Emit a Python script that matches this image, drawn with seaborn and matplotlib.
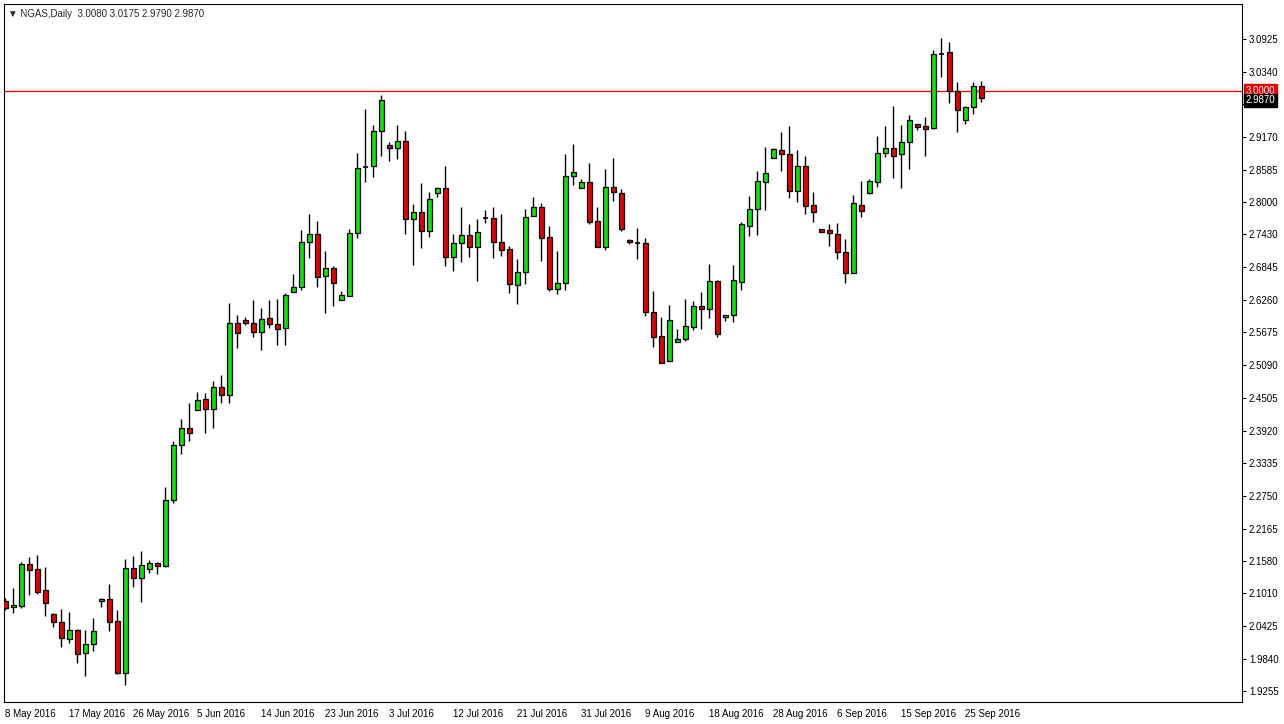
import numpy as np
import matplotlib
matplotlib.use("Agg")
import matplotlib.pyplot as plt
import seaborn as sns

# daily NGAS candles (open, high, low, close)
opens = [2.087, 2.076, 2.078, 2.153, 2.144, 2.107, 2.064, 2.050, 2.019, 2.035,
         1.994, 2.010, 2.087, 2.091, 2.051, 1.958, 2.146, 2.128, 2.144, 2.155,
         2.150, 2.268, 2.366, 2.397, 2.429, 2.449, 2.431, 2.470, 2.456, 2.585,
         2.590, 2.585, 2.568, 2.593, 2.583, 2.576, 2.640, 2.649, 2.729, 2.744,
         2.669, 2.683, 2.626, 2.633, 2.746, 2.864, 2.865, 2.928, 2.903, 2.898,
         2.910, 2.771, 2.783, 2.749, 2.817, 2.826, 2.703, 2.728, 2.742, 2.720,
         2.772, 2.772, 2.729, 2.717, 2.652, 2.676, 2.776, 2.792, 2.738, 2.645,
         2.656, 2.847, 2.826, 2.837, 2.767, 2.720, 2.828, 2.817, 2.733, 2.728,
         2.727, 2.604, 2.561, 2.517, 2.551, 2.556, 2.577, 2.615, 2.610, 2.660,
         2.595, 2.599, 2.658, 2.758, 2.788, 2.837, 2.880, 2.894, 2.887, 2.821,
         2.865, 2.796, 2.753, 2.751, 2.744, 2.712, 2.674, 2.796, 2.817, 2.837,
         2.889, 2.898, 2.887, 2.908, 2.941, 2.937, 2.933, 3.066, 3.069, 2.999,
         2.948, 2.971, 3.008]
highs = [2.093, 2.110, 2.157, 2.166, 2.169, 2.148, 2.066, 2.073, 2.067, 2.037,
         2.035, 2.057, 2.093, 2.118, 2.071, 2.162, 2.168, 2.177, 2.160, 2.157,
         2.291, 2.373, 2.413, 2.441, 2.461, 2.459, 2.481, 2.491, 2.620, 2.599,
         2.595, 2.626, 2.611, 2.626, 2.627, 2.638, 2.672, 2.751, 2.780, 2.767,
         2.713, 2.686, 2.642, 2.753, 2.889, 2.967, 2.939, 2.992, 2.908, 2.939,
         2.928, 2.797, 2.835, 2.819, 2.828, 2.865, 2.744, 2.792, 2.762, 2.771,
         2.787, 2.792, 2.780, 2.722, 2.699, 2.788, 2.810, 2.799, 2.758, 2.713,
         2.887, 2.905, 2.842, 2.871, 2.792, 2.860, 2.880, 2.824, 2.735, 2.754,
         2.737, 2.642, 2.595, 2.617, 2.574, 2.627, 2.624, 2.640, 2.690, 2.661,
         2.599, 2.688, 2.765, 2.812, 2.856, 2.899, 2.898, 2.926, 2.937, 2.894,
         2.883, 2.819, 2.753, 2.762, 2.763, 2.735, 2.813, 2.839, 2.842, 2.919,
         2.937, 2.973, 2.939, 2.957, 2.941, 2.953, 3.073, 3.094, 3.087, 3.016,
         2.973, 3.016, 3.0175]
lows = [2.071, 2.066, 2.075, 2.098, 2.100, 2.060, 2.041, 2.005, 2.012, 1.976,
        1.953, 1.998, 2.076, 2.033, 1.957, 1.937, 2.112, 2.085, 2.137, 2.135,
        2.148, 2.262, 2.350, 2.373, 2.428, 2.388, 2.397, 2.441, 2.441, 2.540,
        2.581, 2.559, 2.536, 2.576, 2.545, 2.545, 2.640, 2.644, 2.701, 2.649,
        2.602, 2.615, 2.626, 2.633, 2.737, 2.837, 2.846, 2.883, 2.874, 2.878,
        2.744, 2.688, 2.719, 2.738, 2.810, 2.686, 2.678, 2.694, 2.703, 2.660,
        2.763, 2.701, 2.704, 2.638, 2.618, 2.654, 2.776, 2.695, 2.642, 2.636,
        2.644, 2.831, 2.826, 2.762, 2.720, 2.715, 2.803, 2.749, 2.726, 2.699,
        2.597, 2.542, 2.513, 2.516, 2.550, 2.552, 2.572, 2.574, 2.593, 2.559,
        2.588, 2.586, 2.644, 2.740, 2.742, 2.787, 2.879, 2.856, 2.808, 2.801,
        2.780, 2.765, 2.747, 2.722, 2.699, 2.656, 2.673, 2.774, 2.816, 2.828,
        2.881, 2.844, 2.826, 2.860, 2.930, 2.883, 2.932, 3.025, 2.978, 2.926,
        2.941, 2.958, 2.979]
closes = [2.075, 2.080, 2.153, 2.143, 2.103, 2.084, 2.050, 2.021, 2.035, 1.992,
          2.010, 2.033, 2.091, 2.050, 1.958, 2.146, 2.128, 2.152, 2.155, 2.150,
          2.268, 2.366, 2.397, 2.388, 2.447, 2.431, 2.470, 2.456, 2.585, 2.567,
          2.585, 2.568, 2.592, 2.583, 2.574, 2.635, 2.649, 2.729, 2.744, 2.667,
          2.683, 2.656, 2.635, 2.746, 2.862, 2.864, 2.928, 2.983, 2.898, 2.910,
          2.771, 2.783, 2.749, 2.806, 2.826, 2.703, 2.728, 2.742, 2.720, 2.747,
          2.772, 2.729, 2.715, 2.654, 2.676, 2.774, 2.792, 2.737, 2.645, 2.656,
          2.847, 2.855, 2.837, 2.765, 2.720, 2.828, 2.819, 2.753, 2.729, 2.728,
          2.604, 2.559, 2.513, 2.590, 2.556, 2.579, 2.615, 2.610, 2.660, 2.565,
          2.599, 2.661, 2.762, 2.788, 2.839, 2.853, 2.896, 2.887, 2.821, 2.865,
          2.794, 2.783, 2.748, 2.746, 2.712, 2.674, 2.799, 2.785, 2.839, 2.889,
          2.898, 2.883, 2.908, 2.948, 2.935, 2.932, 3.066, 3.066, 2.999, 2.966,
          2.971, 3.008, 2.987]

date_labels = ["8 May 2016", "17 May 2016", "26 May 2016", "5 Jun 2016", "14 Jun 2016",
               "23 Jun 2016", "3 Jul 2016", "12 Jul 2016", "21 Jul 2016", "31 Jul 2016",
               "9 Aug 2016", "18 Aug 2016", "28 Aug 2016", "6 Sep 2016", "15 Sep 2016",
               "25 Sep 2016"]
price_ticks = [3.0925, 3.0340, 2.9755, 2.9170, 2.8585, 2.8000, 2.7430, 2.6845, 2.6260,
               2.5675, 2.5090, 2.4505, 2.3920, 2.3335, 2.2750, 2.2165, 2.1580, 2.1010,
               2.0425, 1.9840, 1.9255]
level_line = 3.0

sns.set_style("white")
plt.rcParams['font.family'] = ['Liberation Sans', 'DejaVu Sans']

fig = plt.figure(figsize=(12.84, 7.24), dpi=100)
ax = fig.add_axes([4 / 1284, 22 / 724, 1238 / 1284, 698 / 724])

o = np.array(opens); h = np.array(highs); l = np.array(lows); c = np.array(closes)
x = np.arange(len(o))

ax.vlines(x, l, h, color='black', linewidth=1, zorder=2)
up = c > o
down = c < o
flat = c == o
ax.bar(x[up], c[up] - o[up], bottom=o[up], width=0.62, color='#00e600',
       edgecolor='black', linewidth=0.9, zorder=3)
ax.bar(x[down], o[down] - c[down], bottom=c[down], width=0.62, color='#e00000',
       edgecolor='black', linewidth=0.9, zorder=3)
ax.hlines(o[flat], x[flat] - 0.31, x[flat] + 0.31, color='black', linewidth=1.2, zorder=3)

ax.axhline(level_line, color='#e00000', linewidth=0.9, zorder=1)

ax.set_xlim(-0.15, 154.6)
ax.set_ylim(1.9064, 3.155)

ax.yaxis.tick_right()
ax.set_yticks(price_ticks)
ax.set_yticklabels([f"{v:.4f}" for v in price_ticks], fontsize=7)
ax.set_xticks(np.arange(len(date_labels)) * 8)
ax.set_xticklabels(date_labels, fontsize=7, ha='left')
ax.tick_params(axis='both', direction='out', length=3, width=0.8, colors='black', pad=2)
for s in ax.spines.values():
    s.set_color('black')
    s.set_linewidth(0.8)

# price tags at the right edge, drawn over the tick labels
ax.text(1.003, level_line, "3.0000", transform=ax.get_yaxis_transform(), fontsize=7,
        color='white', va='center', ha='left', zorder=5,
        bbox=dict(boxstyle='square,pad=0.15', fc='#e00000', ec='#e00000'))
ax.text(1.003, closes[-1] - 0.004, f"{closes[-1]:.4f}", transform=ax.get_yaxis_transform(),
        fontsize=7, color='white', va='center', ha='left', zorder=5,
        bbox=dict(boxstyle='square,pad=0.15', fc='black', ec='black'))

ax.text(0.003, 0.993, f"\u25bc NGAS,Daily  {opens[-1]:.4f} {highs[-1]:.4f} {lows[-1]:.4f} {closes[-1]:.4f}",
        transform=ax.transAxes, fontsize=7, va='top', ha='left')

fig.savefig("out.png", dpi=100)
